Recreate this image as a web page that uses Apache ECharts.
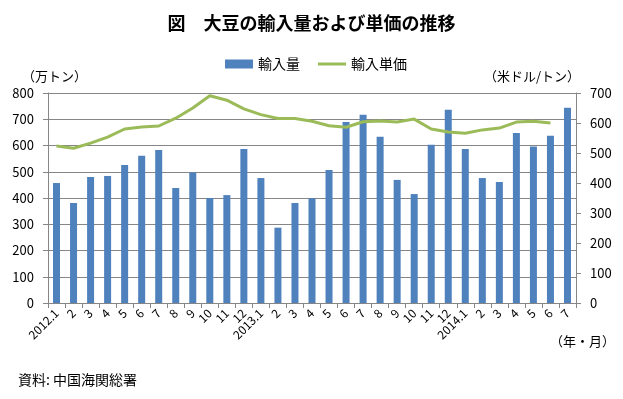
<!DOCTYPE html>
<html>
<head>
<meta charset="utf-8">
<script src="https://cdn.jsdelivr.net/npm/echarts@6/dist/echarts.min.js"></script>
<style>
  html, body { margin: 0; padding: 0; background: #fff; }
  #chart { width: 623px; height: 399px; }
</style>
</head>
<body>
<div id="chart"></div>
<script>
// 月ラベル
var months = ['2012.1', '2', '3', '4', '5', '6', '7', '8', '9', '10', '11', '12',
    '2013.1', '2', '3', '4', '5', '6', '7', '8', '9', '10', '11', '12',
    '2014.1', '2', '3', '4', '5', '6', '7'];

// 輸入量（万トン）
var importVolume = [457, 381, 480, 484, 526, 561, 583, 438, 497, 400, 411, 587,
    476, 287, 381, 399, 507, 690, 717, 633, 469, 415, 603, 736,
    587, 476, 461, 648, 596, 637, 744];

// 輸入単価（米ドル/トン）  2014.7 は無し
var unitPrice = [523, 516, 533, 553, 580, 587, 590, 616, 650, 691, 676, 647,
    628, 615, 615, 606, 591, 586, 604, 607, 603, 613, 580, 570,
    566, 577, 583, 603, 606, 600, null];

var leftTicks = [0, 800, 100];
var rightTicks = [0, 700, 100];

var font = '"Noto Sans CJK JP", sans-serif';

var myChart = echarts.init(document.getElementById('chart'));

var option = {
    animation: false,
    textStyle: { fontFamily: font, color: '#000' },
    title: {
        text: '図　大豆の輸入量および単価の推移',
        left: 'center',
        top: 9,
        textStyle: { fontFamily: font, fontSize: 18, fontWeight: 'bold', color: '#000' }
    },
    legend: {
        top: 52,
        left: 220,
        itemGap: 18,
        itemWidth: 28,
        itemHeight: 9,
        textStyle: { fontFamily: font, fontSize: 14, color: '#000' },
        data: [
            { name: '輸入量', icon: 'rect' },
            { name: '輸入単価', icon: 'path://M0,0 L28,0 L28,3 L0,3 Z' }
        ]
    },
    grid: { left: 48, right: 47, top: 93, bottom: 96 },
    xAxis: {
        type: 'category',
        data: months,
        boundaryGap: true,
        axisLine: { lineStyle: { color: '#868686' } },
        axisTick: { show: true, length: 5, alignWithLabel: false, lineStyle: { color: '#868686' } },
        axisLabel: {
            interval: 0,
            rotate: 45,
            fontSize: 12,
            color: '#000',
            fontFamily: font,
            margin: 8
        }
    },
    yAxis: [{
        type: 'value',
        min: leftTicks[0],
        max: leftTicks[1],
        interval: leftTicks[2],
        name: '（万トン）',
        nameLocation: 'end',
        nameGap: 10,
        nameTextStyle: { fontFamily: font, fontSize: 13, color: '#000', align: 'left', padding: [0, 0, 0, -26] },
        axisLine: { show: true, lineStyle: { color: '#868686' } },
        axisTick: { show: true, length: 5, lineStyle: { color: '#868686' } },
        axisLabel: { fontSize: 13, color: '#000', margin: 14, fontFamily: font },
        splitLine: { show: true, lineStyle: { color: '#868686', width: 1 } }
    }, {
        type: 'value',
        min: rightTicks[0],
        max: rightTicks[1],
        interval: rightTicks[2],
        name: '（米ドル/トン）',
        nameLocation: 'end',
        nameGap: 10,
        nameTextStyle: { fontFamily: font, fontSize: 13, color: '#000', align: 'right', padding: [0, -4, 0, 0] },
        axisLine: { show: true, lineStyle: { color: '#868686' } },
        axisTick: { show: true, length: 5, lineStyle: { color: '#868686' } },
        axisLabel: { fontSize: 13, color: '#000', margin: 14, fontFamily: font },
        splitLine: { show: false }
    }],
    graphic: [{
        type: 'text',
        right: 8,
        top: 335,
        style: { text: '（年・月）', font: '13px ' + font, fill: '#000' }
    }, {
        type: 'text',
        left: 18,
        top: 373,
        style: { text: '資料: 中国海関総署', font: '14px ' + font, fill: '#000' }
    }],
    series: [{
        name: '輸入量',
        type: 'bar',
        yAxisIndex: 0,
        barWidth: 7,
        itemStyle: { color: '#4F81BD' },
        data: importVolume
    }, {
        name: '輸入単価',
        type: 'line',
        yAxisIndex: 1,
        symbol: 'none',
        lineStyle: { color: '#9BBB59', width: 3 },
        itemStyle: { color: '#9BBB59' },
        data: unitPrice
    }]
};

myChart.setOption(option);
</script>
</body>
</html>
